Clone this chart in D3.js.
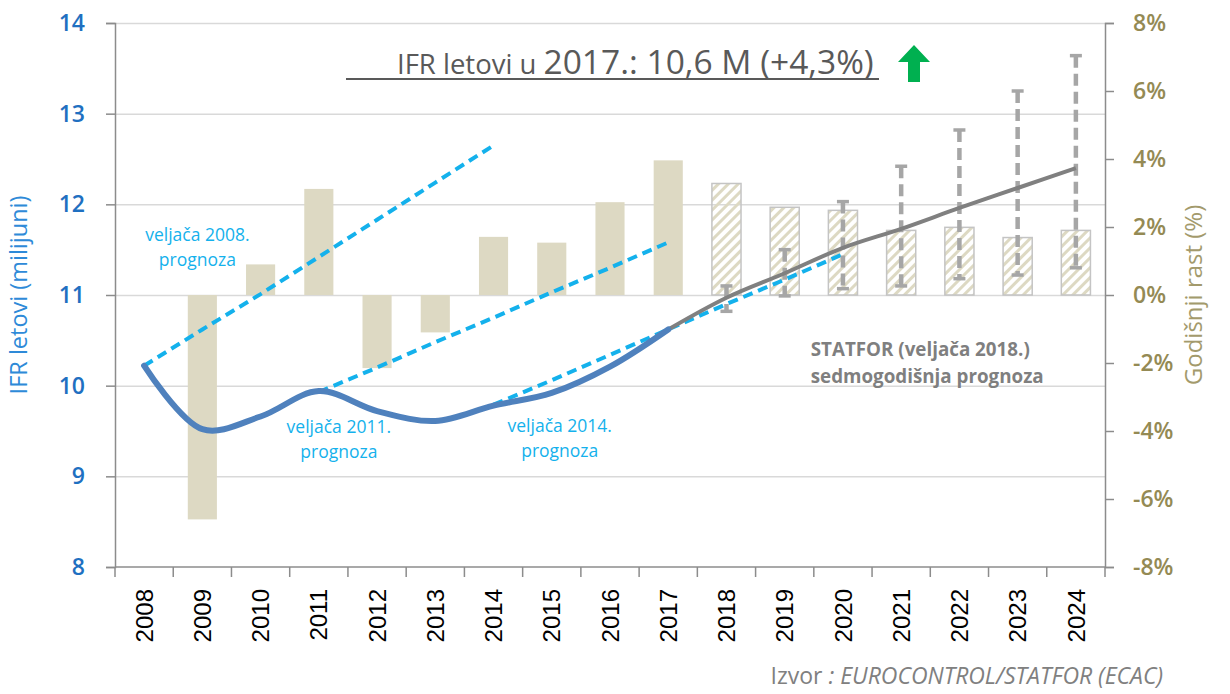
<!DOCTYPE html>
<html>
<head>
<meta charset="utf-8">
<script src="https://cdn.jsdelivr.net/npm/d3@7/dist/d3.min.js"></script>
<style>
  body { margin: 0; background: #fff; }
  svg { display: block; font-family: "Open Sans", sans-serif; }
</style>
</head>
<body>
<div id="my_dataviz"></div>
<script>
// categories
const years = ["2008", "2009", "2010", "2011", "2012", "2013", "2014", "2015", "2016",
  "2017", "2018", "2019", "2020", "2021", "2022", "2023", "2024"];
const firstForecast = 2018;

// IFR flights (millions), actual 2008-2017
const actualYears = ["2008", "2009", "2010", "2011", "2012", "2013", "2014", "2015", "2016", "2017"];
const actualFlights = [10.22, 9.52, 9.66, 9.94, 9.72, 9.61, 9.78, 9.92, 10.21, 10.62];

// STATFOR Feb 2018 seven-year forecast (base) 2017-2024
const baseYears = ["2017", "2018", "2019", "2020", "2021", "2022", "2023", "2024"];
const baseFlights = [10.62, 10.97, 11.24, 11.52, 11.73, 11.96, 12.18, 12.40];

// high / low scenario range 2018-2024
const rangeYears = ["2018", "2019", "2020", "2021", "2022", "2023", "2024"];
const highFlights = [11.10, 11.50, 12.03, 12.42, 12.82, 13.25, 13.64];
const lowFlights = [10.82, 10.99, 11.07, 11.10, 11.18, 11.22, 11.30];

// older forecasts
const fc2008Years = ["2008", "2009", "2010", "2011", "2012", "2013", "2014"];
const fc2008 = [10.22, 10.62, 11.01, 11.42, 11.83, 12.24, 12.65];
const fc2011Years = ["2011", "2012", "2013", "2014", "2015", "2016", "2017"];
const fc2011 = [9.93, 10.20, 10.48, 10.75, 11.03, 11.30, 11.58];
const fc2014Years = ["2014", "2015", "2016", "2017", "2018", "2019", "2020"];
const fc2014 = [9.79, 10.06, 10.34, 10.62, 10.90, 11.17, 11.45];

// annual growth (%), right axis
const growth = [null, -6.6, 0.9, 3.12, -2.15, -1.1, 1.71, 1.54, 2.73, 3.96,
  3.28, 2.58, 2.49, 1.9, 1.99, 1.69, 1.9];

// tick labels
const leftTicks = [8, 9, 10, 11, 12, 13, 14];
const rightTicks = [-8, -6, -4, -2, 0, 2, 4, 6, 8];

// set the dimensions and margins of the graph
const W = 1230, H = 694;
const margin = { top: 23, right: 125, bottom: 127, left: 115 },
    width = W - margin.left - margin.right,
    height = H - margin.top - margin.bottom;

const svgRoot = d3.select("#my_dataviz")
    .append("svg")
    .attr("width", W)
    .attr("height", H);

// hatch pattern for forecast bars
const defs = svgRoot.append("defs");
defs.append("pattern")
    .attr("id", "hatch")
    .attr("patternUnits", "userSpaceOnUse")
    .attr("width", 7)
    .attr("height", 7)
    .attr("patternTransform", "rotate(45)")
    .append("rect")
    .attr("x", 0).attr("y", 0)
    .attr("width", 3).attr("height", 7)
    .attr("fill", "#ddd9c3");

const svg = svgRoot.append("g")
    .attr("transform", `translate(${margin.left}, ${margin.top})`);

// scales
const x = d3.scaleBand()
    .domain(years)
    .range([0, width])
    .paddingInner(0.5)
    .paddingOuter(0.25);
const step = x.step();
const cx = d => x(d) + x.bandwidth() / 2;

const y = d3.scaleLinear().domain([8, 14]).range([height, 0]);
const yR = d3.scaleLinear().domain([-8, 8]).range([height, 0]);

// grid
svg.append("g")
    .attr("class", "grid")
    .call(d3.axisLeft(y).tickValues(leftTicks.slice(1)).tickSize(-width).tickFormat(""))
    .call(g => g.select(".domain").remove())
    .selectAll("line")
    .attr("stroke", "#d9d9d9")
    .attr("stroke-width", 1.5);

// growth bars
const barData = years.map((yr, i) => ({ year: yr, v: growth[i] })).filter(d => d.v !== null);
svg.append("g")
    .selectAll("rect")
    .data(barData)
    .join("rect")
    .attr("x", d => x(d.year))
    .attr("width", x.bandwidth())
    .attr("y", d => yR(Math.max(0, d.v)))
    .attr("height", d => Math.abs(yR(d.v) - yR(0)))
    .attr("fill", d => +d.year >= firstForecast ? "url(#hatch)" : "#ddd9c3")
    .attr("stroke", d => +d.year >= firstForecast ? "#c4c4c4" : "none")
    .attr("stroke-width", 1.5);

// axes
const axisColor = "#8c8c8c";
const gL = svg.append("g")
    .call(d3.axisLeft(y).tickValues(leftTicks).tickSize(9).tickPadding(21).tickFormat(d3.format("d")));
gL.select(".domain").attr("stroke", axisColor).attr("stroke-width", 1.5);
gL.selectAll(".tick line").attr("stroke", axisColor).attr("stroke-width", 1.5);
gL.selectAll(".tick text")
    .attr("fill", "#1f70c1")
    .attr("font-size", 23)
    .attr("font-weight", 600)
    .attr("font-family", "Open Sans");

const gR = svg.append("g")
    .attr("transform", `translate(${width}, 0)`)
    .call(d3.axisRight(yR).tickValues(rightTicks).tickSize(9).tickPadding(19).tickFormat(d => d + "%"));
gR.select(".domain").attr("stroke", axisColor).attr("stroke-width", 1.5);
gR.selectAll(".tick line").attr("stroke", axisColor).attr("stroke-width", 1.5);
gR.selectAll(".tick text")
    .attr("fill", "#948a54")
    .attr("font-size", 23)
    .attr("font-weight", 600)
    .attr("font-family", "Open Sans");

// bottom axis with ticks between categories
const gB = svg.append("g")
    .attr("transform", `translate(0, ${height})`);
gB.append("line")
    .attr("x1", 0).attr("x2", width)
    .attr("stroke", axisColor).attr("stroke-width", 1.5);
gB.selectAll("line.tk")
    .data(years.concat(["end"]))
    .join("line")
    .attr("class", "tk")
    .attr("x1", (d, i) => i * step).attr("x2", (d, i) => i * step)
    .attr("y1", 0).attr("y2", 10)
    .attr("stroke", axisColor).attr("stroke-width", 1.5);
gB.selectAll("text")
    .data(years)
    .join("text")
    .attr("transform", d => `translate(${cx(d)}, 22) rotate(-90)`)
    .attr("text-anchor", "end")
    .attr("dy", "0.36em")
    .attr("font-family", "Liberation Sans, Arial, sans-serif")
    .attr("font-size", 24)
    .attr("fill", "#000")
    .text(d => d);

// older forecasts (dashed)
const line = d3.line()
    .x(d => cx(d[0]))
    .y(d => y(d[1]));
const zip = (a, b) => a.map((v, i) => [v, b[i]]);

[[fc2008Years, fc2008], [fc2011Years, fc2011], [fc2014Years, fc2014]].forEach(f => {
    svg.append("path")
        .datum(zip(f[0], f[1]))
        .attr("d", line)
        .attr("fill", "none")
        .attr("stroke", "#14b1ec")
        .attr("stroke-width", 4)
        .attr("stroke-dasharray", "10,6");
});

// error bars (high / low)
const eb = svg.append("g")
    .selectAll("g")
    .data(rangeYears.map((yr, i) => ({ year: yr, hi: highFlights[i], lo: lowFlights[i] })))
    .join("g");
eb.append("line")
    .attr("x1", d => cx(d.year)).attr("x2", d => cx(d.year))
    .attr("y1", d => y(d.hi)).attr("y2", d => y(d.lo))
    .attr("stroke", "#a6a6a6")
    .attr("stroke-width", 4.5)
    .attr("stroke-dasharray", "12,6");
eb.selectAll("line.cap")
    .data(d => [d.hi, d.lo].map(v => ({ year: d.year, v: v })))
    .join("line")
    .attr("class", "cap")
    .attr("x1", d => cx(d.year) - 6).attr("x2", d => cx(d.year) + 6)
    .attr("y1", d => y(d.v)).attr("y2", d => y(d.v))
    .attr("stroke", "#a6a6a6")
    .attr("stroke-width", 3.5);

// base forecast
const smooth = d3.line()
    .x(d => cx(d[0]))
    .y(d => y(d[1]))
    .curve(d3.curveCatmullRom.alpha(0.5));

svg.append("path")
    .datum(zip(baseYears, baseFlights))
    .attr("d", smooth)
    .attr("fill", "none")
    .attr("stroke", "#808080")
    .attr("stroke-width", 4);

// actual flights
svg.append("path")
    .datum(zip(actualYears, actualFlights))
    .attr("d", smooth)
    .attr("fill", "none")
    .attr("stroke", "#4f81bd")
    .attr("stroke-width", 6)
    .attr("stroke-linecap", "round");

// forecast labels
function label(lines, px, py, opts) {
    const t = svg.append("text")
        .attr("x", px)
        .attr("y", py)
        .attr("text-anchor", opts.anchor || "middle")
        .attr("font-size", opts.size)
        .attr("font-weight", opts.weight || "normal")
        .attr("fill", opts.color);
    lines.forEach((s, i) => {
        t.append("tspan").attr("x", px).attr("dy", i === 0 ? 0 : opts.lh).text(s);
    });
}
const blue = { size: 17.5, color: "#14b1ec", lh: 25 };
label(["veljača 2008.", "prognoza"], cx("2009") - 5, 218, blue);
label(["veljača 2011.", "prognoza"], cx("2011") + 20, 410, blue);
label(["veljača 2014.", "prognoza"], cx("2015") + 8, 409, blue);
label(["STATFOR (veljača 2018.)", "sedmogodišnja prognoza"], cx("2019") + 26, 333,
    { size: 18.8, color: "#7f7f7f", lh: 27, anchor: "start", weight: "bold" });

// axis titles
svgRoot.append("text")
    .attr("transform", `translate(27, ${margin.top + height / 2}) rotate(-90)`)
    .attr("text-anchor", "middle")
    .attr("font-size", 23.5)
    .attr("fill", "#2e8ad8")
    .text("IFR letovi (milijuni)");
svgRoot.append("text")
    .attr("transform", `translate(1202, ${margin.top + height / 2}) rotate(-90)`)
    .attr("text-anchor", "middle")
    .attr("font-size", 24)
    .attr("fill", "#a39a6c")
    .text("Godišnji rast (%)");

// title
const title = svgRoot.append("text")
    .attr("x", 397)
    .attr("y", 74)
    .attr("fill", "#595959");
title.append("tspan").attr("font-size", 27.5).text("IFR letovi u ");
title.append("tspan").attr("font-size", 33.5).text("2017.: 10,6 M (+4,3%)");
svgRoot.append("line")
    .attr("x1", 346).attr("x2", 879)
    .attr("y1", 79).attr("y2", 79)
    .attr("stroke", "#595959").attr("stroke-width", 2);

// green up arrow
const ax = 914, ay = 45;
svgRoot.append("path")
    .attr("d", `M${ax},${ay} L${ax + 16},${ay + 17} L${ax + 6},${ay + 17} L${ax + 6},${ay + 37}
                L${ax - 6},${ay + 37} L${ax - 6},${ay + 17} L${ax - 16},${ay + 17} Z`)
    .attr("fill", "#00b050");

// source
const src = svgRoot.append("text")
    .attr("x", 1163)
    .attr("y", 684)
    .attr("text-anchor", "end")
    .attr("font-size", 23)
    .attr("fill", "#808080");
src.append("tspan").text("Izvor ");
src.append("tspan").attr("font-style", "italic").text(": EUROCONTROL/STATFOR (ECAC)");
</script>
</body>
</html>
